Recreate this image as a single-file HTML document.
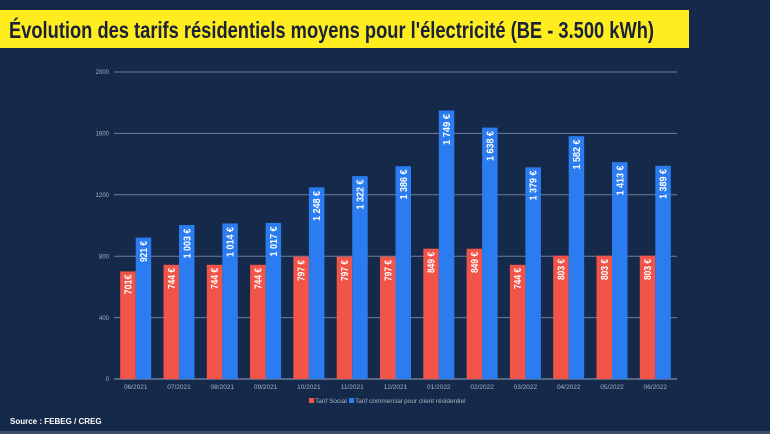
<!DOCTYPE html>
<html><head><meta charset="utf-8"><style>
html,body{margin:0;padding:0;width:770px;height:434px;overflow:hidden;background:#15294a}
</style></head><body>
<svg width="770" height="434" xmlns="http://www.w3.org/2000/svg" font-family="Liberation Sans, sans-serif">
<rect width="770" height="434" fill="#15294a"/>
<rect x="0" y="431" width="770" height="3" fill="#3a4d6c"/>
<rect x="0" y="10" width="689" height="38" fill="#ffed1f"/>
<text x="9" y="38" font-size="23" font-weight="bold" fill="#1a2238" textLength="645" lengthAdjust="spacingAndGlyphs">Évolution des tarifs résidentiels moyens pour l'électricité (BE - 3.500 kWh)</text>
<g stroke="#6f7f99" stroke-width="1">
<line x1="114" y1="72" x2="677" y2="72"/>
<line x1="114" y1="133.4" x2="677" y2="133.4"/>
<line x1="114" y1="194.8" x2="677" y2="194.8"/>
<line x1="114" y1="256.2" x2="677" y2="256.2"/>
<line x1="114" y1="317.6" x2="677" y2="317.6"/>
</g>
<line x1="114" y1="379" x2="677" y2="379" stroke="#9aa5b8" stroke-width="1"/>
<g font-size="6" fill="#aab3c3" text-anchor="end">
<text x="109" y="74">2000</text><text x="109" y="135.5">1600</text><text x="109" y="197">1200</text><text x="109" y="258.5">800</text><text x="109" y="320">400</text><text x="109" y="381">0</text>
</g>
<g fill="#f2544a">
<rect x="120.2" y="271.4" width="15.5" height="107.6"/>
<rect x="163.5" y="264.8" width="15.5" height="114.2"/>
<rect x="206.8" y="264.8" width="15.5" height="114.2"/>
<rect x="250.1" y="264.8" width="15.5" height="114.2"/>
<rect x="293.4" y="256.7" width="15.5" height="122.3"/>
<rect x="336.7" y="256.7" width="15.5" height="122.3"/>
<rect x="380.0" y="256.7" width="15.5" height="122.3"/>
<rect x="423.3" y="248.7" width="15.5" height="130.3"/>
<rect x="466.6" y="248.7" width="15.5" height="130.3"/>
<rect x="509.9" y="264.8" width="15.5" height="114.2"/>
<rect x="553.2" y="255.7" width="15.5" height="123.3"/>
<rect x="596.5" y="255.7" width="15.5" height="123.3"/>
<rect x="639.8" y="255.7" width="15.5" height="123.3"/>
</g>
<g fill="#2b7cf0">
<rect x="135.7" y="237.6" width="15.5" height="141.4"/>
<rect x="179.0" y="225.0" width="15.5" height="154"/>
<rect x="222.3" y="223.4" width="15.5" height="155.6"/>
<rect x="265.6" y="222.9" width="15.5" height="156.1"/>
<rect x="308.9" y="187.4" width="15.5" height="191.6"/>
<rect x="352.2" y="176.1" width="15.5" height="202.9"/>
<rect x="395.5" y="166.2" width="15.5" height="212.8"/>
<rect x="438.8" y="110.5" width="15.5" height="268.5"/>
<rect x="482.1" y="127.6" width="15.5" height="251.4"/>
<rect x="525.4" y="167.3" width="15.5" height="211.7"/>
<rect x="568.7" y="136.2" width="15.5" height="242.8"/>
<rect x="612.0" y="162.1" width="15.5" height="216.9"/>
<rect x="655.3" y="165.8" width="15.5" height="213.2"/>
</g>
<g font-size="10" font-weight="bold" fill="#ffffff" text-anchor="end">
<text transform="translate(131.5,274.5) rotate(-90)" textLength="20" lengthAdjust="spacingAndGlyphs">701€</text>
<text transform="translate(174.8,268) rotate(-90)" textLength="21" lengthAdjust="spacingAndGlyphs">744 €</text>
<text transform="translate(218.1,268) rotate(-90)" textLength="21" lengthAdjust="spacingAndGlyphs">744 €</text>
<text transform="translate(261.4,268) rotate(-90)" textLength="21" lengthAdjust="spacingAndGlyphs">744 €</text>
<text transform="translate(304.7,260) rotate(-90)" textLength="21" lengthAdjust="spacingAndGlyphs">797 €</text>
<text transform="translate(348,260) rotate(-90)" textLength="21" lengthAdjust="spacingAndGlyphs">797 €</text>
<text transform="translate(391.3,260) rotate(-90)" textLength="21" lengthAdjust="spacingAndGlyphs">797 €</text>
<text transform="translate(434.6,252) rotate(-90)" textLength="21" lengthAdjust="spacingAndGlyphs">849 €</text>
<text transform="translate(477.9,252) rotate(-90)" textLength="21" lengthAdjust="spacingAndGlyphs">849 €</text>
<text transform="translate(521.2,268) rotate(-90)" textLength="21" lengthAdjust="spacingAndGlyphs">744 €</text>
<text transform="translate(564.5,259) rotate(-90)" textLength="21" lengthAdjust="spacingAndGlyphs">803 €</text>
<text transform="translate(607.8,259) rotate(-90)" textLength="21" lengthAdjust="spacingAndGlyphs">803 €</text>
<text transform="translate(651.1,259) rotate(-90)" textLength="21" lengthAdjust="spacingAndGlyphs">803 €</text>

<text transform="translate(147,241) rotate(-90)" textLength="21" lengthAdjust="spacingAndGlyphs">921 €</text>
<text transform="translate(190.3,228.5) rotate(-90)" textLength="30" lengthAdjust="spacingAndGlyphs">1 003 €</text>
<text transform="translate(233.6,227) rotate(-90)" textLength="30" lengthAdjust="spacingAndGlyphs">1 014 €</text>
<text transform="translate(276.9,226.5) rotate(-90)" textLength="30" lengthAdjust="spacingAndGlyphs">1 017 €</text>
<text transform="translate(320.2,191) rotate(-90)" textLength="30" lengthAdjust="spacingAndGlyphs">1 248 €</text>
<text transform="translate(363.5,179.5) rotate(-90)" textLength="30" lengthAdjust="spacingAndGlyphs">1 322 €</text>
<text transform="translate(406.8,169.5) rotate(-90)" textLength="30" lengthAdjust="spacingAndGlyphs">1 386 €</text>
<text transform="translate(450.1,114) rotate(-90)" textLength="31" lengthAdjust="spacingAndGlyphs">1 749 €</text>
<text transform="translate(493.4,131) rotate(-90)" textLength="30" lengthAdjust="spacingAndGlyphs">1 638 €</text>
<text transform="translate(536.7,170.5) rotate(-90)" textLength="30" lengthAdjust="spacingAndGlyphs">1 379 €</text>
<text transform="translate(580,139.5) rotate(-90)" textLength="30" lengthAdjust="spacingAndGlyphs">1 582 €</text>
<text transform="translate(623.3,165.5) rotate(-90)" textLength="30" lengthAdjust="spacingAndGlyphs">1 413 €</text>
<text transform="translate(666.6,169) rotate(-90)" textLength="30" lengthAdjust="spacingAndGlyphs">1 389 €</text>
</g>
<g font-size="6.5" fill="#aab3c3" text-anchor="middle">
<text x="135.7" y="389">06/2021</text><text x="179" y="389">07/2021</text><text x="222.3" y="389">08/2021</text><text x="265.6" y="389">09/2021</text><text x="308.9" y="389">10/2021</text><text x="352.2" y="389">11/2021</text><text x="395.5" y="389">12/2021</text><text x="438.8" y="389">01/2022</text><text x="482.1" y="389">02/2022</text><text x="525.4" y="389">03/2022</text><text x="568.7" y="389">04/2022</text><text x="612" y="389">05/2022</text><text x="655.3" y="389">06/2022</text>
</g>
<rect x="309" y="398" width="5" height="5" fill="#f2544a"/>
<text x="315" y="403" font-size="6.5" fill="#aab3c3">Tarif Social</text>
<rect x="349" y="398" width="5" height="5" fill="#2b7cf0"/>
<text x="355" y="403" font-size="6.5" fill="#aab3c3">Tarif commercial pour client résidentiel</text>
<text x="10" y="424" font-size="8" font-weight="bold" fill="#ffffff">Source : FEBEG / CREG</text>
</svg>
</body></html>
